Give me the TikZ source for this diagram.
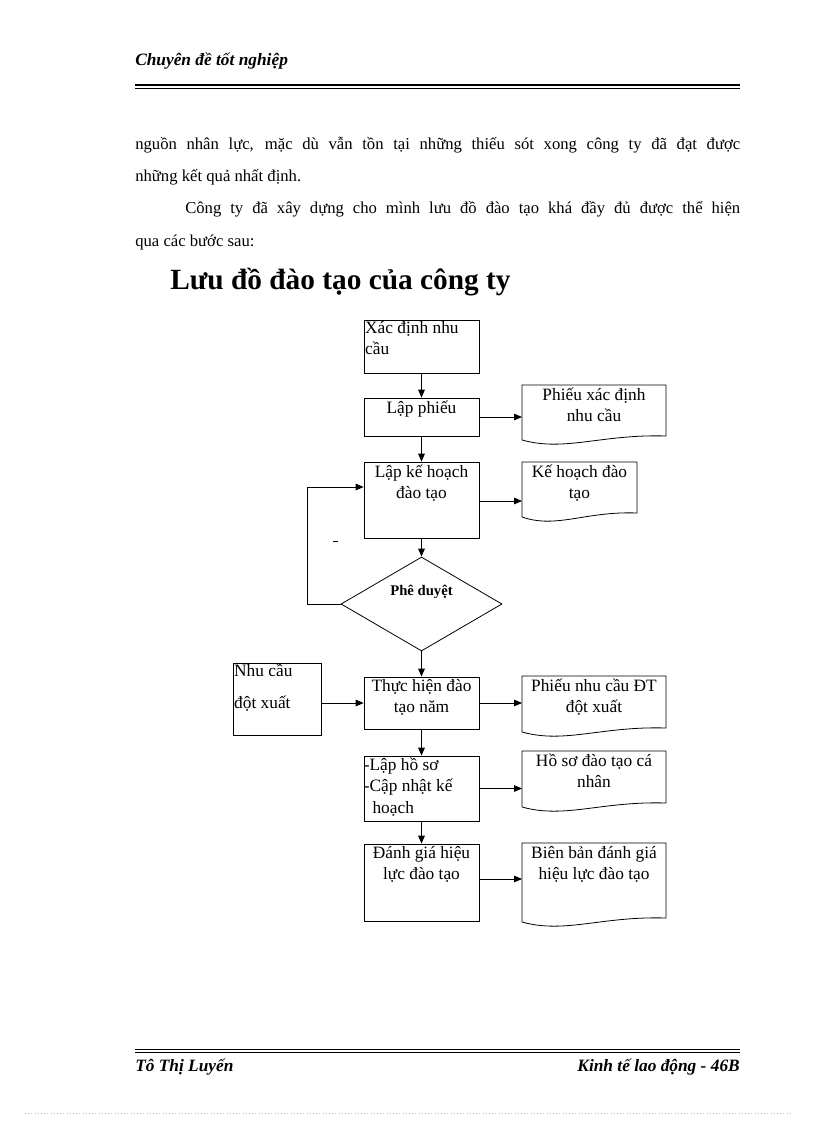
\documentclass[tikz,border=0pt]{standalone}
\usepackage{fontspec}
\setmainfont{Liberation Serif}
\usetikzlibrary{arrows.meta,shapes.geometric,calc}
\begin{document}
\begin{tikzpicture}[x=0.75pt,y=-0.75pt,
  box/.style={draw,line width=0.6pt,minimum width=86.25pt,inner sep=0pt},
  lbl/.style={anchor=north,align=center,font=\fontsize{13}{16}\selectfont,inner sep=2pt},
  arr/.style={-{Triangle[length=6pt,width=5pt]},line width=0.6pt},
  body/.style={anchor=base west,inner sep=0pt,font=\fontsize{12.5}{14}\selectfont}]
\useasboundingbox (0,0) rectangle (816,1123);
% header
\node[anchor=base west,inner sep=0pt,font=\fontsize{13}{14}\selectfont\bfseries\itshape] (hd) at (135,66) {Chuyên đề tốt nghiệp};
\draw[line width=0.8pt] (135,85) -- (740,85);
\draw[line width=0.4pt] (135,88.5) -- (740,88.5);
% body text
\node[body] (t1) at (135,150) {\makebox[453.75pt][s]{nguồn nhân lực, mặc dù vẫn tồn tại những thiếu sót xong công ty đã đạt được}};
\node[body] (t2) at (135,182) {những kết quả nhất định.};
\node[body] (t3) at (185,214) {\makebox[416.25pt][s]{Công ty đã xây dựng cho mình lưu đồ đào tạo khá đầy đủ được thể hiện}};
\node[body] (t4) at (135,246) {qua các bước sau:};
\node[anchor=base west,inner sep=0pt,font=\fontsize{22}{24}\selectfont\bfseries] (title) at (170,289) {Lưu đồ đào tạo của công ty};
% main boxes
\node[box,minimum height=39.75pt] (b1) at (421.5,346.5) {};
\node[lbl,anchor=north west,align=left,inner sep=1pt] at (b1.north west) {Xác định nhu\\cầu};
\node[box,minimum height=28.5pt] (b2) at (421.5,417) {};
\node[lbl] at (b2.north) {Lập phiếu};
\node[box,minimum height=57pt] (b3) at (421.5,500) {};
\node[lbl] at (b3.north) {Lập kế hoạch\\đào tạo};
\node[diamond,draw,line width=0.6pt,aspect=1.7,minimum width=120.75pt,minimum height=70.5pt,inner sep=0pt] (d) at (421.5,604) {};
\node[font=\fontsize{11}{12}\selectfont\bfseries] at (421.5,592) {Phê duyệt};
\node[box,minimum height=39pt] (b4) at (421.5,703) {};
\node[lbl] at (b4.north) {Thực hiện đào\\tạo năm};
\node[box,minimum height=48.75pt] (b5) at (421.5,788.5) {};
\node[lbl,anchor=north west,align=left,inner sep=0pt] at ($(b5.north west)+(0,2)$) {-Lập hồ sơ\\-Cập nhật kế\\\ \ hoạch};
\node[box,minimum height=57.75pt] (b6) at (421.5,882.5) {};
\node[lbl] at (b6.north) {Đánh giá hiệu\\lực đào tạo};
\node[box,minimum width=66pt,minimum height=54pt] (nc) at (277,699) {};
\node[lbl,anchor=north west,align=left,inner sep=1pt,font=\fontsize{13}{24}\selectfont] at (nc.north west) {Nhu cầu\\đột xuất};
% documents
\newcommand{\docpath}[5]{% x1 y1 x2 b name
  \draw[line width=0.6pt] (#1,#4-8) -- (#1,#2) -- (#3,#2) -- (#3,#4-12)
    .. controls (#1+0.55*#3-0.55*#1,#4-14) and (#1+0.3*#3-0.3*#1,#4+4) .. (#1,#4-8);
  \coordinate (#5) at (#1,#2);}
\docpath{522}{385}{666}{448}{p1}
\node[lbl] at (594,385) {Phiếu xác định\\nhu cầu};
\docpath{522}{462}{637}{525}{p2}
\node[lbl] at (579.5,462) {Kế hoạch đào\\tạo};
\docpath{522}{676}{666}{740}{p3}
\node[lbl] at (594,676) {Phiếu nhu cầu ĐT\\đột xuất};
\docpath{522}{751}{666}{815}{p4}
\node[lbl] at (594,751) {Hồ sơ đào tạo cá\\nhân};
\docpath{522}{843}{666}{930}{p5}
\node[lbl] at (594,843) {Biên bản đánh giá\\hiệu lực đào tạo};
% connectors
\draw[arr] (b1.south) -- (b2.north);
\draw[arr] (b2.south) -- (b3.north);
\draw[arr] (b3.south) -- (d.north);
\draw[arr] (d.south) -- (b4.north);
\draw[arr] (b4.south) -- (b5.north);
\draw[arr] (b5.south) -- (b6.north);
\draw[arr] (b2.east) -- (p1 |- b2.east);
\draw[arr] (b3.east |- 0,501) -- (522,501);
\draw[arr] (b4.east) -- (522,703);
\draw[arr] (b5.east) -- (p4 |- b5.east);
\draw[arr] (b6.east |- 0,879) -- (522,879);
\draw[arr] (nc.east |- 0,703) -- (b4.west);
\draw[arr] (d.west) -- (307,604) -- (307,487) -- (b3.west |- 0,487);
\draw[line width=0.5pt] (333,541) -- (338,541);
% footer
\draw[line width=0.4pt] (135,1049) -- (740,1049);
\draw[line width=0.8pt] (135,1052.5) -- (740,1052.5);
\node[anchor=base west,inner sep=0pt,font=\fontsize{13}{14}\selectfont\bfseries\itshape] (fl) at (135,1071) {Tô Thị Luyến};
\node[anchor=base east,inner sep=0pt,font=\fontsize{13}{14}\selectfont\bfseries\itshape] (fr) at (740,1071) {Kinh tế lao động - 46B};
\draw[gray!50,dotted,line width=0.4pt] (25,1113) -- (790,1113);
\end{tikzpicture}
\end{document}
